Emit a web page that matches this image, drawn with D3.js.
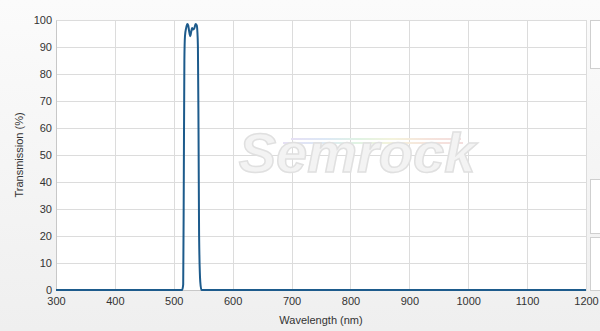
<!DOCTYPE html>
<html>
<head>
<meta charset="utf-8">
<script src="https://cdn.jsdelivr.net/npm/d3@7"></script>
<style>
  body { margin: 0; background: #fff; }
  svg { display: block; font-family: "Liberation Sans", Arial, sans-serif; }
</style>
</head>
<body>
<script>
// transmission curve
const wavelengths = [300, 514, 516, 517, 518, 519, 521, 523, 524.5, 526, 528, 529.5, 531, 533, 535, 537, 539, 540, 541, 542, 543, 545, 547, 1200];
const transmission = [0, 0, 2, 40, 85, 94, 97, 98.5, 98, 96, 94, 95.5, 97, 96.5, 97, 98.5, 98, 96, 90, 60, 20, 3, 0, 0];
const xTicks = [300, 400, 500, 600, 700, 800, 900, 1000, 1100, 1200];
const yTicks = [0, 10, 20, 30, 40, 50, 60, 70, 80, 90, 100];

const width = 600, height = 331;
const margin = { top: 20, right: 14, bottom: 41, left: 56 };
const w = 586 - margin.left;
const h = height - margin.top - margin.bottom;

const svg = d3.select('body').append('svg')
  .attr('width', width)
  .attr('height', height);

// page background
const defs = svg.append('defs');
const bg = defs.append('linearGradient').attr('id', 'bg').attr('x1', 0).attr('y1', 0).attr('x2', 0).attr('y2', 1);
bg.append('stop').attr('offset', '0%').attr('stop-color', '#fbfbfb');
bg.append('stop').attr('offset', '100%').attr('stop-color', '#efefef');
const rb = defs.append('linearGradient').attr('id', 'rainbow');
['#e6e0f4', '#dde8f6', '#e0f3e4', '#f4f3dc', '#f6e4dc', '#f4dede'].forEach((c, i, a) => {
  rb.append('stop').attr('offset', (i / (a.length - 1) * 100) + '%').attr('stop-color', c);
});

svg.append('rect').attr('width', width).attr('height', height).attr('fill', 'url(#bg)');

// side panels on the right
[[20, 68], [179, 233], [237, 290]].forEach(p => {
  svg.append('rect')
    .attr('x', 590.5).attr('y', p[0] + 0.5)
    .attr('width', 20).attr('height', p[1] - p[0])
    .attr('fill', '#fff').attr('stroke', '#cfcfcf');
});

const g = svg.append('g').attr('transform', 'translate(' + margin.left + ',' + margin.top + ')');

const x = d3.scaleLinear().domain([300, 1200]).range([0, w]);
const y = d3.scaleLinear().domain([0, 100]).range([h, 0]);

g.append('rect').attr('width', w).attr('height', h).attr('fill', '#fff');

// grid
g.append('g').selectAll('line').data(xTicks).join('line')
  .attr('x1', d => Math.round(x(d)) + 0.5).attr('x2', d => Math.round(x(d)) + 0.5)
  .attr('y1', 0).attr('y2', h)
  .attr('stroke', '#dcdcdc');
g.append('g').selectAll('line').data(yTicks).join('line')
  .attr('x1', 0).attr('x2', w)
  .attr('y1', d => Math.round(y(d)) + 0.5).attr('y2', d => Math.round(y(d)) + 0.5)
  .attr('stroke', '#dcdcdc');

// watermark
const wm = g.append('g').attr('transform', 'translate(' + (357 - margin.left) + ',' + (172 - margin.top) + ')');
wm.append('rect').attr('x', -66).attr('y', -34).attr('width', 170).attr('height', 2).attr('fill', 'url(#rainbow)');
wm.append('rect').attr('x', -74).attr('y', -30).attr('width', 180).attr('height', 2).attr('fill', 'url(#rainbow)');
wm.append('text')
  .attr('text-anchor', 'middle')
  .attr('font-size', 56)
  .attr('font-style', 'italic')
  .attr('font-weight', 'bold')
  .attr('fill', '#f3f3f3')
  .attr('stroke', '#e0e0e0')
  .attr('stroke-width', 1.5)
  .text('Semrock');

// axes
const xAxis = g.append('g').attr('transform', 'translate(0,' + h + ')')
  .call(d3.axisBottom(x).tickValues(xTicks).tickFormat(d3.format('d')).tickSize(0).tickPadding(7));
const yAxis = g.append('g')
  .call(d3.axisLeft(y).tickValues(yTicks).tickFormat(d3.format('d')).tickSize(0).tickPadding(4));
[xAxis, yAxis].forEach(a => {
  a.select('.domain').attr('stroke', '#c8c8c8');
  a.selectAll('text').attr('font-size', 11).attr('fill', '#333').attr('font-family', '"Liberation Sans", Arial, sans-serif');
});

// curve
const pts = wavelengths.map((d, i) => [d, transmission[i]]);
g.append('path')
  .datum(pts)
  .attr('fill', 'none')
  .attr('stroke', '#1d5b8c')
  .attr('stroke-width', 2)
  .attr('stroke-linejoin', 'round')
  .attr('d', d3.line().x(d => x(d[0])).y(d => y(d[1])).curve(d3.curveMonotoneX));

// titles
svg.append('text')
  .attr('x', margin.left + w / 2).attr('y', 324)
  .attr('text-anchor', 'middle')
  .attr('font-size', 11).attr('fill', '#333')
  .text('Wavelength (nm)');
svg.append('text')
  .attr('transform', 'translate(23,' + (margin.top + h / 2) + ') rotate(-90)')
  .attr('text-anchor', 'middle')
  .attr('font-size', 11).attr('fill', '#333')
  .text('Transmission (%)');
</script>
</body>
</html>
